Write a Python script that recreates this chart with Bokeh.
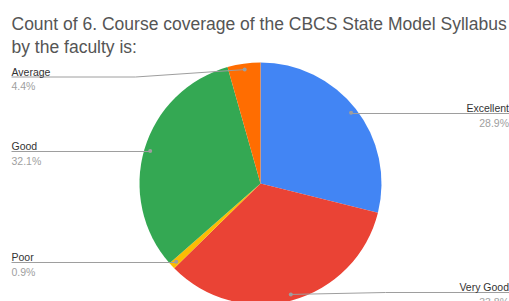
import math
from bokeh.plotting import figure
from bokeh.models import Range1d
from bokeh.core.properties import value
from bokeh.embed import file_html
from bokeh.resources import INLINE

# ---- data ----
categories = ["Excellent", "Very Good", "Poor", "Good", "Average"]
percents = [28.9, 33.8, 0.9, 32.1, 4.4]
colors = ["#4285F4", "#EA4335", "#FBBC04", "#34A853", "#FF6D01"]
pct_labels = ["28.9%", "33.8%", "0.9%", "32.1%", "4.4%"]
title_lines = ["Count of 6. Course coverage of the CBCS State Model Syllabus",
               "by the faculty is:"]

W, H = 509, 301


def fx(rx):
    return rx


def fy(ry):
    return H - ry


p = figure(width=W, height=H, output_backend="svg", toolbar_location=None,
           x_range=Range1d(0, W), y_range=Range1d(0, H), min_border=0,
           background_fill_color="white", border_fill_color="white")
p.axis.visible = False
p.grid.visible = False
p.outline_line_color = None

# pie geometry (reference pixel coords)
cx, cy, R = fx(260), fy(183), 121

total = sum(percents)
starts, ends, mids = [], [], []
acc = 0.0
for v in percents:
    f0 = acc / total
    acc += v
    f1 = acc / total
    starts.append(math.pi / 2 - 2 * math.pi * f0)
    ends.append(math.pi / 2 - 2 * math.pi * f1)
    mids.append(math.pi / 2 - 2 * math.pi * (f0 + f1) / 2)

p.wedge(x=[cx] * len(percents), y=[cy] * len(percents), radius=R,
        start_angle=starts, end_angle=ends, direction="clock",
        fill_color=colors, line_color=None)

# label layout: side, line y (ref px), elbow x (ref px) or None
layout = {
    "Excellent": ("right", 113, None),
    "Very Good": ("right", 292, 385),
    "Poor": ("left", 262, None),
    "Good": ("left", 151, None),
    "Average": ("left", 76.5, 135),
}

LEFT_X = fx(11)
RIGHT_X = W - 0.5
dot_r = R - 6
for cat, pct, ang in zip(categories, percents, mids):
    side, ly, ex = layout[cat]
    dx = cx + dot_r * math.cos(ang)
    dy = cy + dot_r * math.sin(ang)
    lyd = fy(ly)
    end_x = LEFT_X if side == "left" else RIGHT_X
    if ex is None:
        xs = [dx, end_x]
        ys = [lyd, lyd]
    else:
        xs = [dx, fx(ex), end_x]
        ys = [dy, lyd, lyd]
    p.line(xs, ys, line_color="#9e9e9e", line_width=1)
    p.scatter([dx], [dy], size=4, marker="circle", fill_color="#9e9e9e",
              line_color=None)
    align = "left" if side == "left" else "right"
    p.text(x=[end_x], y=[lyd + 5.5], text=[cat], text_align=align,
           text_baseline="alphabetic", text_font=value("Liberation Sans"),
           text_font_size="10.5px", text_color="#333333")
    p.text(x=[end_x], y=[lyd - 9], text=[pct_labels[categories.index(cat)]],
           text_align=align, text_baseline="alphabetic",
           text_font=value("Liberation Sans"), text_font_size="10.5px",
           text_color="#a0a0a0")

# title
for i, t in enumerate(title_lines):
    p.text(x=[fx(11)], y=[fy(23 + 23 * i)], text=[t], text_align="left",
           text_baseline="alphabetic", text_font=value("Liberation Sans"),
           text_font_size="17.5px", text_color="#555555")

open("out.html", "w").write(file_html(p, INLINE))
